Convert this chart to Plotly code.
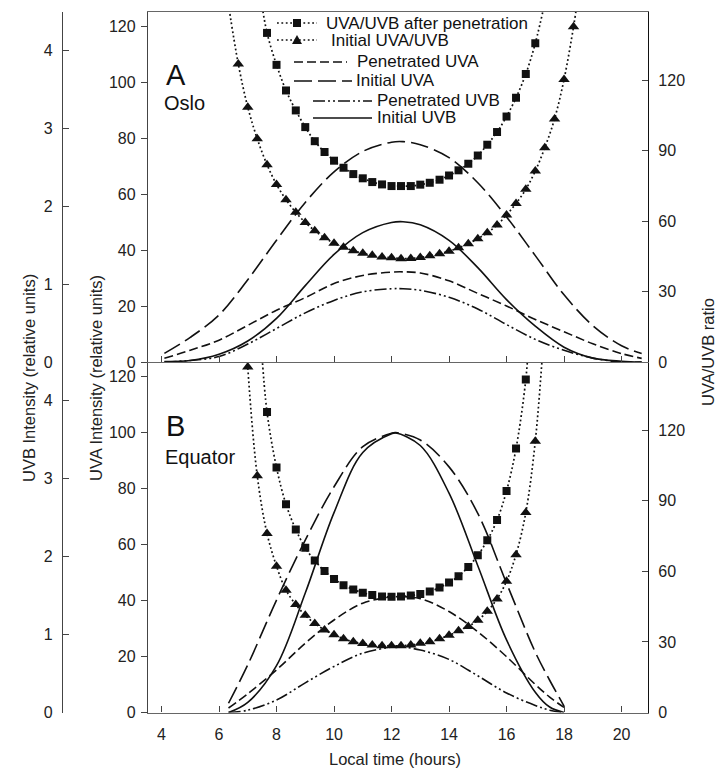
import plotly.graph_objects as go

# ---------------- DATA ----------------
# Panel A: Oslo (continuous curves)
oslo_hours = [4.1, 5, 6, 7, 8, 9, 10, 11, 12, 12.4, 13, 14, 15, 16, 17, 18, 19, 20, 20.7]
oslo_initial_uva = [3.1, 8.8, 16.8, 29.4, 43.5, 57.0, 67.9, 75.2, 78.5, 78.7, 77.6, 73.0, 64.0, 51.8, 38.0, 24.0, 13.0, 5.8, 3.0]
oslo_penetrated_uva = [1.3, 4.2, 7.8, 13.1, 18.5, 23.0, 28.0, 30.9, 32.1, 32.2, 31.8, 29.0, 24.5, 20.0, 15.2, 10.8, 6.5, 3.0, 1.3]
oslo_initial_uvb = [0.005, 0.02, 0.10, 0.27, 0.56, 0.98, 1.38, 1.66, 1.79, 1.80, 1.76, 1.56, 1.21, 0.80, 0.46, 0.19, 0.05, 0.01, 0.0]
oslo_penetrated_uvb = [0.0, 0.02, 0.07, 0.23, 0.43, 0.63, 0.79, 0.90, 0.94, 0.94, 0.92, 0.83, 0.68, 0.48, 0.29, 0.15, 0.05, 0.0, 0.0]

# Panel A: Oslo ratios (markers every 20 min)
oslo_sq_hours = [7.67, 8.00, 8.33, 8.67, 9.00, 9.33, 9.67, 10.00, 10.33, 10.67, 11.00, 11.33, 11.67, 12.00,
                 12.33, 12.67, 13.00, 13.33, 13.67, 14.00, 14.33, 14.67, 15.00, 15.33, 15.67, 16.00, 16.33, 16.67, 17.00]
oslo_ratio_after = [140.1, 126.5, 115.6, 107.1, 100.0, 94.0, 89.4, 85.7, 82.7, 80.0, 78.2, 76.6, 75.6, 74.9,
                    74.9, 74.9, 75.5, 76.3, 77.6, 79.4, 81.6, 84.4, 87.9, 92.5, 97.9, 104.5, 112.5, 122.6, 135.7]
oslo_sq_ext_hours = [7.48, 17.35]
oslo_sq_ext_ratio = [153.0, 154.0]

oslo_tri_hours = [6.67, 7.00, 7.33, 7.67, 8.00, 8.33, 8.67, 9.00, 9.33, 9.67, 10.00, 10.33, 10.67, 11.00, 11.33, 11.67, 12.00,
                  12.33, 12.67, 13.00, 13.33, 13.67, 14.00, 14.33, 14.67, 15.00, 15.33, 15.67, 16.00, 16.33, 16.67,
                  17.00, 17.33, 17.67, 18.00, 18.33]
oslo_ratio_initial = [126.9, 108.5, 95.0, 84.0, 75.6, 69.1, 63.7, 59.4, 55.9, 52.9, 50.6, 48.8, 47.4, 46.3, 45.4, 44.7, 44.4,
                      44.0, 44.1, 44.5, 45.2, 46.1, 47.2, 48.6, 50.3, 52.5, 55.0, 58.3, 62.6, 67.5, 73.5,
                      81.3, 91.2, 103.5, 120.3, 142.7]
oslo_tri_ext_hours = [6.33, 18.48]
oslo_tri_ext_ratio = [152.0, 155.0]

# Panel B: Equator (continuous curves)
eq_hours = [6.33, 7, 8, 9, 10, 11, 12, 12.15, 13, 14, 15, 16, 17, 17.5, 18.0]
eq_initial_uva = [3.3, 17.0, 40.1, 61.5, 80.5, 94.8, 99.6, 99.8, 97.2, 87.6, 71.0, 46.1, 21.5, 11.5, 2.3]
eq_penetrated_uva = [1.6, 6.7, 15.2, 24.7, 33.0, 39.0, 41.3, 41.4, 40.6, 36.0, 28.8, 19.9, 10.0, 5.5, 1.8]
eq_initial_uvb = [0.0, 0.13, 0.60, 1.53, 2.56, 3.33, 3.57, 3.58, 3.42, 2.81, 1.88, 0.93, 0.26, 0.07, 0.0]
eq_penetrated_uvb = [0.0, 0.03, 0.16, 0.38, 0.59, 0.76, 0.84, 0.85, 0.80, 0.68, 0.47, 0.25, 0.09, 0.03, 0.0]

# Panel B: Equator ratios
eq_sq_hours = [7.67, 8.00, 8.33, 8.67, 9.00, 9.33, 9.67, 10.00, 10.33, 10.67, 11.00, 11.33, 11.67, 12.00,
               12.33, 12.67, 13.00, 13.33, 13.67, 14.00, 14.33, 14.67, 15.00, 15.33, 15.67, 16.00, 16.33, 16.67]
eq_ratio_after = [127.7, 104.1, 88.5, 77.8, 70.0, 64.6, 60.1, 56.8, 54.1, 52.3, 50.9, 49.9, 49.3, 49.2,
                  49.3, 49.7, 50.4, 51.4, 53.1, 55.3, 57.9, 61.9, 66.8, 73.2, 81.8, 94.2, 112.2, 141.6]
eq_sq_ext_hours = [7.47, 16.78]
eq_sq_ext_ratio = [156.0, 160.0]

eq_tri_hours = [7.00, 7.33, 7.67, 8.00, 8.33, 8.67, 9.00, 9.33, 9.67, 10.00, 10.33, 10.67, 11.00, 11.33, 11.67, 12.00,
                12.33, 12.67, 13.00, 13.33, 13.67, 14.00, 14.33, 14.67, 15.00, 15.33, 15.67, 16.00, 16.33, 16.67, 17.00]
eq_ratio_initial = [146.9, 100.6, 76.1, 62.2, 52.0, 45.9, 41.3, 37.8, 35.1, 33.0, 31.3, 30.1, 29.3, 28.7, 28.4, 28.4,
                    28.4, 28.7, 29.4, 30.1, 31.4, 32.8, 34.8, 36.6, 39.2, 43.0, 48.3, 55.8, 67.1, 85.0, 115.3]
eq_tri_ext_hours = [6.93, 17.27]
eq_tri_ext_ratio = [165.0, 156.0]

hour_ticks = [4, 6, 8, 10, 12, 14, 16, 18, 20]
uva_ticks = [0, 20, 40, 60, 80, 100, 120]
uvb_ticks = [0, 1, 2, 3, 4]
ratio_ticks = [0, 30, 60, 90, 120]

legend_labels = ["UVA/UVB after penetration", "Initial UVA/UVB", "Penetrated UVA",
                 "Initial UVA", "Penetrated UVB", "Initial UVB"]

# ---------------- STYLE ----------------
W, H = 725, 774
FONT = "Liberation Sans, Arial, sans-serif"
INK = "#111111"
AX = "#444444"


def X(px):
    return px / W


def Y(py):
    return 1 - py / H


DASH_PEN_UVA = "9px,4px"
DASH_INI_UVA = "18px,6px"
DASH_PEN_UVB = "12px,3px,2px,3px,2px,3px"
DOT = "1.8px,2.6px"
LW = 1.6

fig = go.Figure()


def add_panel(xa, ya_uva, ya_ratio, ya_uvb, hours, ini_uva, pen_uva, ini_uvb, pen_uvb,
              sq_h, sq_r, sq_eh, sq_er, tri_h, tri_r, tri_eh, tri_er):
    # intensity curves
    fig.add_trace(go.Scatter(x=hours, y=ini_uva, mode="lines", xaxis=xa, yaxis=ya_uva,
                             line=dict(color=INK, width=LW, dash=DASH_INI_UVA, shape="spline"),
                             showlegend=False))
    fig.add_trace(go.Scatter(x=hours, y=pen_uva, mode="lines", xaxis=xa, yaxis=ya_uva,
                             line=dict(color=INK, width=LW, dash=DASH_PEN_UVA, shape="spline"),
                             showlegend=False))
    fig.add_trace(go.Scatter(x=hours, y=ini_uvb, mode="lines", xaxis=xa, yaxis=ya_uvb,
                             line=dict(color=INK, width=LW, shape="spline"),
                             showlegend=False))
    fig.add_trace(go.Scatter(x=hours, y=pen_uvb, mode="lines", xaxis=xa, yaxis=ya_uvb,
                             line=dict(color=INK, width=LW, dash=DASH_PEN_UVB, shape="spline"),
                             showlegend=False))
    # ratio dotted lines (with extension to the frame)
    for h, r, eh, er, sym, sz in [(sq_h, sq_r, sq_eh, sq_er, "square", 8),
                                  (tri_h, tri_r, tri_eh, tri_er, "triangle-up", 10)]:
        fig.add_trace(go.Scatter(x=[eh[0]] + h + [eh[1]], y=[er[0]] + r + [er[1]], mode="lines",
                                 xaxis=xa, yaxis=ya_ratio,
                                 line=dict(color=INK, width=1.7, dash=DOT, shape="spline"),
                                 showlegend=False))
        fig.add_trace(go.Scatter(x=h, y=r, mode="markers", xaxis=xa, yaxis=ya_ratio,
                                 marker=dict(symbol=sym, size=sz, color=INK, line=dict(width=0)),
                                 cliponaxis=True, showlegend=False))


add_panel("x2", "y4", "y5", "y6", oslo_hours, oslo_initial_uva, oslo_penetrated_uva,
          oslo_initial_uvb, oslo_penetrated_uvb,
          oslo_sq_hours, oslo_ratio_after, oslo_sq_ext_hours, oslo_sq_ext_ratio,
          oslo_tri_hours, oslo_ratio_initial, oslo_tri_ext_hours, oslo_tri_ext_ratio)
add_panel("x", "y", "y2", "y3", eq_hours, eq_initial_uva, eq_penetrated_uva,
          eq_initial_uvb, eq_penetrated_uvb,
          eq_sq_hours, eq_ratio_after, eq_sq_ext_hours, eq_sq_ext_ratio,
          eq_tri_hours, eq_ratio_initial, eq_tri_ext_hours, eq_tri_ext_ratio)

tickfont = dict(family=FONT, size=16, color="#222222")
xdom = [X(148), X(648)]
bot_dom = [Y(712.5), Y(362)]
top_dom = [Y(362), Y(12)]

xbase = dict(range=[3.53, 20.92], tickvals=hour_ticks, ticks="inside", ticklen=6, tickwidth=1,
             tickcolor=AX, showline=True, linecolor="#666666", linewidth=1.3, showgrid=False,
             zeroline=False, domain=xdom, tickfont=tickfont, fixedrange=True)


def yuva(dom, anchor):
    return dict(domain=dom, anchor=anchor, range=[0, 125], tickvals=uva_ticks, ticks="outside",
                ticklen=6, tickwidth=1, tickcolor=AX, showline=True, linecolor=AX, linewidth=1.3,
                showgrid=False, zeroline=False, tickfont=tickfont, ticklabelstandoff=2)


def yratio(over, anchor):
    return dict(overlaying=over, anchor=anchor, side="right", range=[0, 149], tickvals=ratio_ticks,
                ticks="inside", ticklen=6, tickwidth=1, tickcolor=AX, showline=True, linecolor=INK,
                linewidth=1.3, showgrid=False, zeroline=False, tickfont=tickfont, ticklabelstandoff=6)


def yuvb(over):
    return dict(overlaying=over, anchor="free", position=X(62), side="left", range=[0, 4.49],
                tickvals=uvb_ticks, ticks="inside", ticklen=6, tickwidth=1, tickcolor=AX,
                showline=True, linecolor=AX, linewidth=1.3, showgrid=False, zeroline=False,
                tickfont=tickfont, ticklabelstandoff=6)


fig.update_layout(
    width=W, height=H,
    margin=dict(l=0, r=0, t=0, b=0, autoexpand=False),
    paper_bgcolor="white", plot_bgcolor="white",
    showlegend=False,
    font=dict(family=FONT, color=INK),
    xaxis=dict(xbase, anchor="y", showticklabels=True, ticklabelstandoff=7),
    xaxis2=dict(xbase, anchor="y4", matches="x", showticklabels=False, mirror=True),
    yaxis=yuva(bot_dom, "x"),
    yaxis2=yratio("y", "x"),
    yaxis3=yuvb("y"),
    yaxis4=yuva(top_dom, "x2"),
    yaxis5=yratio("y4", "x2"),
    yaxis6=yuvb("y4"),
)

ann = []
shapes = []
TITLE_FONT = dict(size=16.5, family=FONT, color="#222")


def title_ann(px, py, text, angle=0):
    return dict(x=X(px), y=Y(py), xref="paper", yref="paper", text=text, textangle=angle,
                xanchor="center", yanchor="middle", showarrow=False, font=TITLE_FONT)


# axis titles
ann.append(title_ann(29, 378, "UVB Intensity (relative units)", -90))
ann.append(title_ann(96, 378, "UVA Intensity (relative units)", -90))
ann.append(title_ann(708, 352, "UVA/UVB ratio", -90))
ann.append(title_ann(395, 759, "Local time (hours)"))
# panel labels
ann.append(dict(x=X(164), y=Y(75), xref="paper", yref="paper", text="A", xanchor="left", yanchor="middle",
                showarrow=False, font=dict(size=29, family=FONT, color=INK)))
ann.append(dict(x=X(162), y=Y(103), xref="paper", yref="paper", text="Oslo", xanchor="left", yanchor="middle",
                showarrow=False, font=dict(size=20, family=FONT, color=INK)))
ann.append(dict(x=X(164), y=Y(426), xref="paper", yref="paper", text="B", xanchor="left", yanchor="middle",
                showarrow=False, font=dict(size=29, family=FONT, color=INK)))
ann.append(dict(x=X(163), y=Y(457), xref="paper", yref="paper", text="Equator", xanchor="left", yanchor="middle",
                showarrow=False, font=dict(size=20, family=FONT, color=INK)))

# legend (staggered, as in the original)
rows = [
    # (y, line_x0, line_x1, dash, marker, text_x)
    (23, 277, 317, DOT, "square", 324),
    (40, 277, 317, DOT, "triangle", 329),
    (62, 294, 347, DASH_PEN_UVA, None, 355),
    (81, 294, 352, DASH_INI_UVA, None, 354),
    (101, 313, 372, DASH_PEN_UVB, None, 375),
    (118, 313, 372, "solid", None, 375),
]
for (py, x0, x1, dash, mk, tx), label in zip(rows, legend_labels):
    shapes.append(dict(type="line", xref="paper", yref="paper", x0=X(x0), x1=X(x1), y0=Y(py), y1=Y(py),
                       line=dict(color=INK, width=1.6, dash=dash)))
    cx = (x0 + x1) / 2
    if mk == "square":
        shapes.append(dict(type="rect", xref="paper", yref="paper", x0=X(cx - 4), x1=X(cx + 4),
                           y0=Y(py + 4), y1=Y(py - 4), fillcolor=INK, line=dict(width=0)))
    elif mk == "triangle":
        path = "M {} {} L {} {} L {} {} Z".format(X(cx - 5), Y(py + 4), X(cx + 5), Y(py + 4), X(cx), Y(py - 5))
        shapes.append(dict(type="path", xref="paper", yref="paper", path=path, fillcolor=INK,
                           line=dict(width=0)))
    ann.append(dict(x=X(tx), y=Y(py), xref="paper", yref="paper", text=label, xanchor="left",
                    yanchor="middle", showarrow=False, font=dict(size=17, family=FONT, color=INK)))

fig.update_layout(annotations=ann, shapes=shapes)
fig.write_html("out.html", config={"displayModeBar": False},
               post_script="document.body.style.margin='0';document.body.style.overflow='hidden';")
